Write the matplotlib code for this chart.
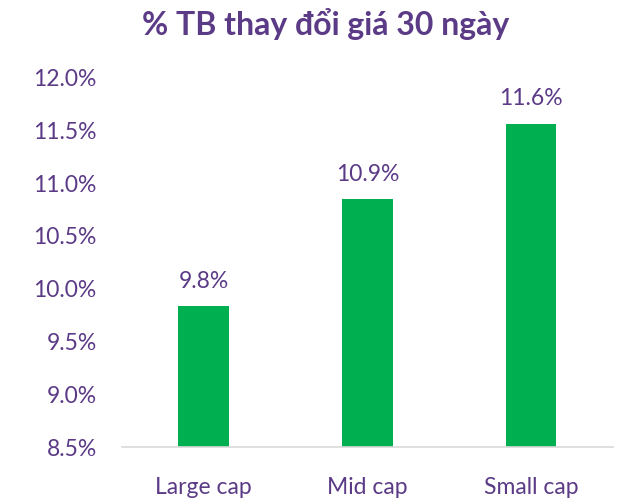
import matplotlib
matplotlib.use("Agg")
import matplotlib.pyplot as plt

categories = ["Large cap", "Mid cap", "Small cap"]
values = [9.83, 10.84, 11.55]
value_labels = ["9.8%", "10.9%", "11.6%"]
yticks = [8.5, 9.0, 9.5, 10.0, 10.5, 11.0, 11.5, 12.0]

purple = "#5B3A86"
green = "#00B050"

plt.rcParams["font.family"] = ["Lato", "DejaVu Sans"]

fig = plt.figure(figsize=(6.21, 5.02), dpi=100)
ax = fig.add_axes([0.196, 0.1076, 0.791, 0.739])

x = range(len(categories))
bars = ax.bar(x, values, width=0.31, color=green, zorder=2)

for b, lab in zip(bars, value_labels):
    ax.annotate(lab, (b.get_x() + b.get_width() / 2, b.get_height()),
                xytext=(0, 11), textcoords="offset points",
                ha="center", va="bottom", fontsize=16.5, color=purple)

ax.set_ylim(8.5, 12.0)
ax.set_xlim(-0.5, 2.5)
ax.set_yticks(yticks)
ax.set_yticklabels([f"{t:.1f}%" for t in yticks])
ax.set_xticks(list(x))
ax.set_xticklabels(categories)
ax.tick_params(axis="y", length=0, pad=18, labelsize=16.5, labelcolor=purple)
ax.tick_params(axis="x", length=0, pad=21, labelsize=16.5, labelcolor=purple)

for s in ["top", "right", "left"]:
    ax.spines[s].set_visible(False)
ax.spines["bottom"].set_color("#D9D9D9")
ax.spines["bottom"].set_linewidth(1.2)

fig.suptitle("% TB thay đổi giá 30 ngày", x=0.525, y=0.985, fontsize=23,
             fontweight="bold", color=purple)

fig.savefig("out.png", dpi=100)
